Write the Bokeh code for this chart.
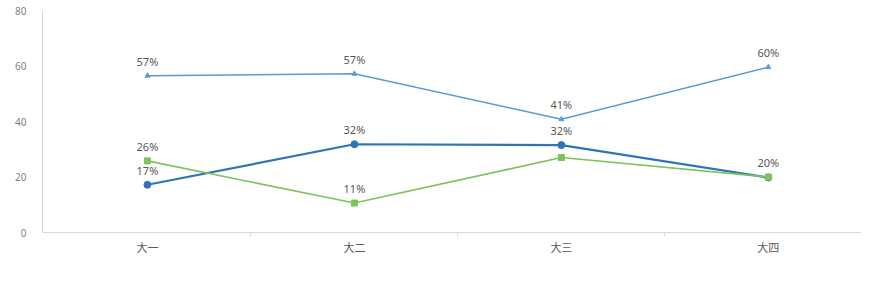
from bokeh.plotting import figure
from bokeh.models import Range1d, FixedTicker, Legend, LegendItem, ColumnDataSource
from bokeh.core.properties import value
from bokeh.embed import file_html
from bokeh.resources import INLINE

cats = ["大一", "大二", "大三", "大四"]
names = ["会，经常", "会，有时", "一般不会"]
often = [17.2, 31.8, 31.5, 19.8]
sometimes = [56.5, 57.2, 40.8, 59.6]
never = [25.8, 10.6, 27.0, 20.0]
often_lbl = ["17%", "32%", "32%", ""]
sometimes_lbl = ["57%", "57%", "41%", "60%"]
never_lbl = ["26%", "11%", "", "20%"]
yticks = [0, 20, 40, 60, 80]

CJK = "Noto Sans CJK SC"
NUM = "Noto Sans"

p = figure(frame_width=819, frame_height=222, output_backend="svg", toolbar_location=None,
           x_range=Range1d(-0.507, 3.45), y_range=Range1d(0, 80),
           min_border_left=42, min_border_right=0, min_border_top=10, min_border_bottom=0)
p.outline_line_color = None
p.xgrid.grid_line_color = None
p.ygrid.grid_line_color = None

xs = list(range(len(cats)))

p.yaxis.ticker = FixedTicker(ticks=yticks)
p.yaxis.axis_line_color = "#d9d9d9"
p.yaxis.major_tick_line_color = None
p.yaxis.minor_tick_line_color = None
p.yaxis.major_label_text_color = "#7f7f7f"
p.yaxis.major_label_text_font = NUM
p.yaxis.major_label_text_font_size = "10px"
p.yaxis.major_label_standoff = 10

p.xaxis.ticker = FixedTicker(ticks=xs, minor_ticks=[i + 0.5 for i in xs[:-1]])
p.xaxis.major_label_overrides = {i: c for i, c in enumerate(cats)}
p.xaxis.axis_line_color = "#d9d9d9"
p.xaxis.major_tick_line_color = None
p.xaxis.minor_tick_line_color = "#d9d9d9"
p.xaxis.minor_tick_out = 4
p.xaxis.minor_tick_in = 0
p.xaxis.major_label_text_color = "#595959"
p.xaxis.major_label_text_font = CJK
p.xaxis.major_label_text_font_size = "11px"
p.xaxis.major_label_standoff = 0

c_often = "#2e75b6"
c_some = "#5b9bd5"
c_never = "#7cc35a"

items = []
series = [(often, often_lbl, c_often, "circle", 7, 2.2),
          (sometimes, sometimes_lbl, c_some, "triangle", 5, 1.5),
          (never, never_lbl, c_never, "square", 6, 1.6)]
for (vals, lbls, col, mk, sz, lw), nm in zip(series, names):
    src = ColumnDataSource(dict(x=xs, y=vals, t=lbls))
    r1 = p.line("x", "y", source=src, line_color=col, line_width=lw)
    r2 = p.scatter("x", "y", source=src, marker=mk, size=sz, fill_color=col, line_color=col)
    p.text("x", "y", text="t", source=src, text_align="center", text_baseline="bottom",
           y_offset=-7, text_font=value(NUM), text_font_size="11px", text_color="#595959")
    items.append(LegendItem(label=nm, renderers=[r1, r2]))

legend = Legend(items=items, orientation="horizontal", location=(274, 0),
                border_line_color=None, background_fill_alpha=0,
                label_text_font=CJK, label_text_font_size="11px", label_text_color="#595959",
                glyph_width=18, glyph_height=12, label_height=12, spacing=24, padding=0,
                margin=0, label_standoff=6)
p.add_layout(legend, "below")

open("out.html", "w").write(file_html(p, INLINE))
